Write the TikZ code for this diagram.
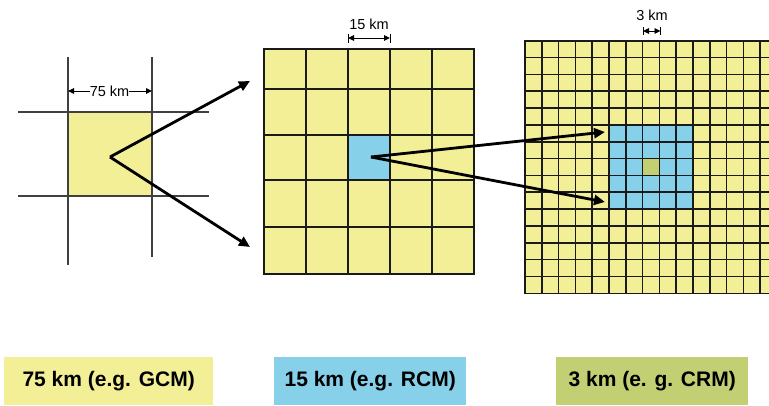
\documentclass[tikz,border=0pt]{standalone}
\usepackage{fontspec}
\setmainfont{Liberation Sans}
\usetikzlibrary{arrows.meta}
\definecolor{cyel}{HTML}{F3EF96}
\definecolor{cblue}{HTML}{86D0EA}
\definecolor{cgreen}{HTML}{C2CF72}
\definecolor{cgrid}{HTML}{1A1A1A}
\definecolor{cgray}{HTML}{404040}
\tikzset{
  gridline/.style={draw=cgrid, line width=1.6pt, line cap=rect},
  thinline/.style={draw=cgray, line width=1.1pt},
  bigarrow/.style={draw=black, line width=2.8pt, -{Triangle[length=11pt,width=10pt]}},
  dimarrow/.style={draw=black, line width=0.9pt, -{Triangle[length=6pt,width=5.5pt]}},
  dimbar/.style={draw=black, line width=1pt},
  dimlabel/.style={font=\fontsize{14.5}{16}\selectfont, inner sep=0pt},
  labelbox/.style={minimum height=48pt, inner sep=0pt, anchor=north west,
    font=\fontsize{21}{24}\selectfont\bfseries},
}
\begin{document}
\begin{tikzpicture}[x=1pt,y=-1pt]
\useasboundingbox (0,0) rectangle (769,405);

% ---------- left: GCM cell ----------
\fill[cyel] (68,112) rectangle (152,196);
\draw[thinline] (18,112) -- (209,112);
\draw[thinline] (18,196) -- (209,196);
\draw[thinline] (68,57) -- (68,265);
\draw[thinline] (152,57) -- (152,257);
\node[dimlabel] (d75) at (109.5,91) {75 km};
\coordinate (d75l) at (68,91);
\coordinate (d75r) at (152,91);
\draw[dimarrow] (d75.west) -- (d75l);
\draw[dimarrow] (d75.east) -- (d75r);

% ---------- middle: RCM grid ----------
\fill[cyel] (264,49) rectangle (474,274);
\fill[cblue] (348,135) rectangle (390,180);
\foreach \x in {264,306,348,390,432,474}
  \draw[gridline] (\x,49) -- (\x,274);
\foreach \y in {49,89,135,180,227,274}
  \draw[gridline] (264,\y) -- (474,\y);
\node[dimlabel] (d15) at (369,24) {15 km};
\coordinate (d15l) at (348,38);
\coordinate (d15r) at (390,38);
\coordinate (d15m) at (369,38);
\draw[dimarrow] (d15m) -- (d15l);
\draw[dimarrow] (d15m) -- (d15r);
\draw[dimbar] (348,33.5) -- (348,42.5);
\draw[dimbar] (390,33.5) -- (390,42.5);

% ---------- right: CRM grid ----------
\fill[cyel] (525,40.7) rectangle (777,293.3);
\fill[cblue] (525+16.8*5,40.7+16.84*5) rectangle (525+16.8*10,40.7+16.84*10);
\fill[cgreen] (525+16.8*7,40.7+16.84*7) rectangle (525+16.8*8,40.7+16.84*8);
\foreach \i in {0,...,15}
  \draw[gridline] (525+16.8*\i,40.7) -- (525+16.8*\i,293.3);
\foreach \j in {0,...,15}
  \draw[gridline] (525,40.7+16.84*\j) -- (777,40.7+16.84*\j);
\node[dimlabel] (d3) at (652,15) {3 km};
\coordinate (d3l) at (643,31);
\coordinate (d3r) at (660.5,31);
\coordinate (d3m) at (651.7,31);
\draw[dimarrow] (d3m) -- (d3l);
\draw[dimarrow] (d3m) -- (d3r);
\draw[dimbar] (643,27) -- (643,35);
\draw[dimbar] (660.5,27) -- (660.5,35);

% ---------- zoom arrows ----------
\coordinate (gc) at (110,157);
\coordinate (ga1) at (250,81);
\coordinate (ga2) at (250,247);
\draw[bigarrow] (gc) -- (ga1);
\draw[bigarrow] (gc) -- (ga2);
\coordinate (rc) at (371,157);
\coordinate (ra1) at (605,132);
\coordinate (ra2) at (605,202);
\draw[bigarrow] (rc) -- (ra1);
\draw[bigarrow] (rc) -- (ra2);

% ---------- legend boxes ----------
\node[labelbox, fill=cyel, minimum width=209pt] (lgcm) at (4,357) {75 km (e.g. GCM)};
\node[labelbox, fill=cblue, minimum width=192pt] (lrcm) at (274,357) {15 km (e.g. RCM)};
\node[labelbox, fill=cgreen, minimum width=192pt] (lcrm) at (556,357) {3 km (e. g. CRM)};
\end{tikzpicture}
\end{document}
